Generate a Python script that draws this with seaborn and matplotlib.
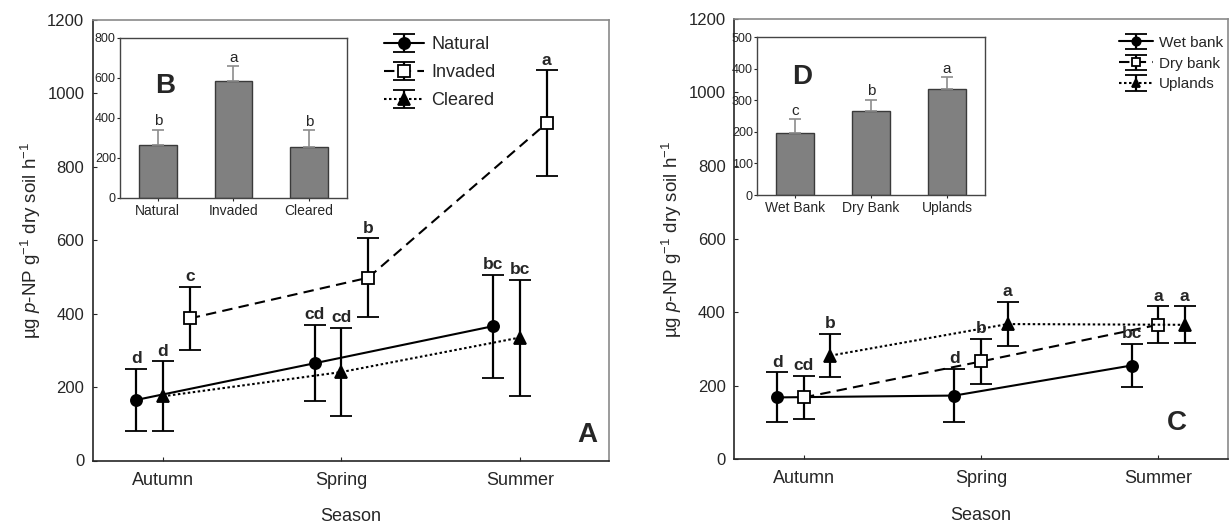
import numpy as np
import matplotlib
matplotlib.use("Agg")
import matplotlib.pyplot as plt
import seaborn as sns

# ---------------- data ----------------
seasons = ["Autumn", "Spring", "Summer"]

# Panel A: soil activity by land condition and season (mean, error)
natural_mean = [165, 265, 366]
natural_err = [84, 104, 140]
invaded_mean = [387, 498, 919]
invaded_err = [86, 107, 144]
cleared_mean = [175, 241, 335]
cleared_err = [95, 120, 158]
natural_letters = ["d", "cd", "bc"]
invaded_letters = ["c", "b", "a"]
cleared_letters = ["d", "cd", "bc"]

# Panel B: overall means by land condition
cond_names = ["Natural", "Invaded", "Cleared"]
cond_mean = [267, 587, 255]
cond_err = [75, 71, 83]
cond_letters = ["b", "a", "b"]

# Panel C: soil activity by landscape zone and season
wet_mean = [168, 173, 255]
wet_err = [68, 73, 59]
dry_mean = [168, 266, 366]
dry_err = [58, 62, 50]
upl_mean = [282, 368, 366]
upl_err = [59, 61, 50]
wet_letters = ["d", "d", "bc"]
dry_letters = ["cd", "b", "a"]
upl_letters = ["b", "a", "a"]

# Panel D: overall means by landscape zone
zone_names = ["Wet Bank", "Dry Bank", "Uplands"]
zone_mean = [195, 266, 337]
zone_err = [44, 36, 35]
zone_letters = ["c", "b", "a"]

# ---------------- style ----------------
sns.set_style("ticks")
plt.rcParams["font.family"] = ["Liberation Sans", "DejaVu Sans"]
plt.rcParams["mathtext.fontset"] = "custom"
plt.rcParams["mathtext.rm"] = "Liberation Sans"
plt.rcParams["mathtext.it"] = "Liberation Sans:italic"
plt.rcParams["mathtext.bf"] = "Liberation Sans:bold"

W, H = 1229, 527
fig = plt.figure(figsize=(W / 100, H / 100), dpi=100)
fig.patch.set_facecolor("white")

YLABEL = r"µg $\it{p}$-NP g$^{-1}$ dry soil h$^{-1}$"
DASHED = (0, (5, 3))
DOTTED = (0, (1.2, 1.2))


def px_axes(x0, x1, y0, y1):
    """Axes from pixel box (left, right, top, bottom)."""
    return fig.add_axes([x0 / W, 1 - y1 / H, (x1 - x0) / W, (y1 - y0) / H])


def season_panel(ax, series, xlim, tag, tag_xy, leg_anchor, leg_size,
                 leg_spacing, leg_scale):
    x = np.arange(len(seasons))
    for label, mean, err, letters, marker, mfc, ls, off in series:
        xs = x + off
        ax.errorbar(xs, mean, yerr=err, fmt=marker, color="black", mfc=mfc,
                    mec="black", ms=8, mew=1.3, linestyle=ls, lw=1.5,
                    capsize=8, capthick=1.6, elinewidth=1.6, label=label)
        for xi, yi, e, L in zip(xs, mean, err, letters):
            ax.annotate(L, (xi, yi + e), xytext=(0, 2), textcoords="offset points",
                        ha="center", va="bottom", fontweight="bold", fontsize=12.5)
    ax.set_xlim(*xlim)
    ax.set_ylim(0, 1200)
    ax.set_yticks(np.arange(0, 1201, 200))
    ax.set_xticks(x)
    ax.set_xticklabels(seasons, fontsize=13)
    ax.tick_params(axis="x", direction="in", length=3, pad=8)
    ax.tick_params(axis="y", direction="in", length=3, pad=6, labelsize=12)
    for s in ("top", "right"):
        ax.spines[s].set_color("#8a8a8a")
        ax.spines[s].set_linewidth(1.2)
    for s in ("left", "bottom"):
        ax.spines[s].set_linewidth(1.2)
    ax.set_xlabel("Season", fontsize=13, labelpad=14)
    ax.set_ylabel(YLABEL, fontsize=13.5, labelpad=3)
    ax.text(*tag_xy, tag, transform=ax.transAxes, fontsize=20, fontweight="bold",
            ha="center", va="center")
    ax.legend(loc="upper left", bbox_to_anchor=leg_anchor, frameon=False,
              fontsize=leg_size, borderaxespad=0, borderpad=0, handlelength=2.2,
              handletextpad=0.4, labelspacing=leg_spacing, markerscale=leg_scale)


def bar_inset(ax, names, mean, err, letters, ymax, step, tag, tag_xy):
    sns.barplot(x=names, y=mean, color="#808080", saturation=1, width=0.5,
                edgecolor="#3a3a3a", linewidth=1, ax=ax)
    ax.errorbar(np.arange(len(names)), mean, yerr=[np.zeros(len(err)), err],
                fmt="none", ecolor="#8c8c8c", elinewidth=1.2, capsize=4, capthick=1.2)
    for i, (m, e, L) in enumerate(zip(mean, err, letters)):
        ax.annotate(L, (i, m + e), xytext=(0, 1), textcoords="offset points",
                    ha="center", va="bottom", fontsize=11)
    ax.set_xlim(-0.5, 2.5)
    ax.set_ylim(0, ymax)
    ax.set_yticks(np.arange(0, ymax + 1, step))
    ax.tick_params(axis="y", labelsize=9, length=2, pad=1)
    ax.tick_params(axis="x", labelsize=10, length=2, pad=2)
    ax.set_xlabel("")
    ax.set_ylabel("")
    for s in ax.spines.values():
        s.set_color("#444444")
        s.set_linewidth(1)
    ax.text(*tag_xy, tag, transform=ax.transAxes, fontsize=20, fontweight="bold",
            ha="center", va="center")


# ---------------- panel A ----------------
axA = px_axes(92.7, 609, 20, 460.5)
season_panel(
    axA,
    [("Natural", natural_mean, natural_err, natural_letters, "o", "black", "-", -0.15),
     ("Invaded", invaded_mean, invaded_err, invaded_letters, "s", "white", DASHED, 0.15),
     ("Cleared", cleared_mean, cleared_err, cleared_letters, "^", "black", DOTTED, 0.0)],
    xlim=(-0.394, 2.499), tag="A", tag_xy=(0.958, 0.058),
    leg_anchor=(0.565, 0.963), leg_size=13, leg_spacing=0.6, leg_scale=1.0,
)

# ---------------- panel B (inset) ----------------
axB = px_axes(120, 347, 38, 198)
bar_inset(axB, cond_names, cond_mean, cond_err, cond_letters, 800, 200, "B", (0.2, 0.7))

# ---------------- panel C ----------------
axC = px_axes(734, 1228, 19, 459)
season_panel(
    axC,
    [("Wet bank", wet_mean, wet_err, wet_letters, "o", "black", "-", -0.15),
     ("Dry bank", dry_mean, dry_err, dry_letters, "s", "white", DASHED, 0.0),
     ("Uplands", upl_mean, upl_err, upl_letters, "^", "black", DOTTED, 0.15)],
    xlim=(-0.395, 2.395), tag="C", tag_xy=(0.897, 0.082),
    leg_anchor=(0.78, 0.962), leg_size=11, leg_spacing=0.45, leg_scale=0.75,
)

# ---------------- panel D (inset) ----------------
axD = px_axes(757, 985, 37, 195)
bar_inset(axD, zone_names, zone_mean, zone_err, zone_letters, 500, 100, "D", (0.2, 0.75))

fig.savefig("out.png", dpi=100, facecolor="white")
